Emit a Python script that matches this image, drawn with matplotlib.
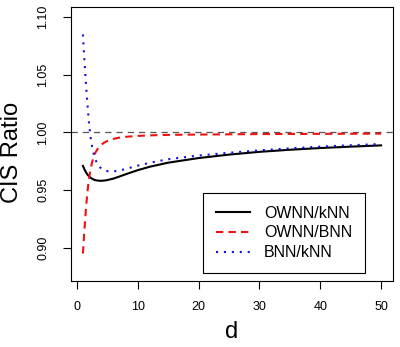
import matplotlib
matplotlib.use("Agg")
import matplotlib.pyplot as plt

plt.rcParams['font.family'] = ['Liberation Sans', 'DejaVu Sans']

# values
d = [1, 1.25, 1.5, 1.75, 2, 2.25, 2.5, 2.75, 3, 3.5, 4, 4.5, 5, 6, 7, 8, 10, 12, 15,
     20, 25, 30, 35, 40, 45, 50]
ownn_knn = [0.971, 0.968, 0.9655, 0.9635, 0.962, 0.9608, 0.9599, 0.9592, 0.9587, 0.9582, 0.9581,
            0.9583, 0.9587, 0.9600, 0.9618, 0.9637, 0.9673, 0.9703, 0.9738,
            0.9778, 0.9808, 0.9832, 0.985, 0.9865, 0.9877, 0.9888]
ownn_bnn = [0.895, 0.916, 0.934, 0.949, 0.960, 0.968, 0.974, 0.9785, 0.982, 0.9865, 0.9893,
            0.9912, 0.9926, 0.9944, 0.9955, 0.9962, 0.9970, 0.9975, 0.9979,
            0.9982, 0.9984, 0.9986, 0.9987, 0.9988, 0.9989, 0.999]
bnn_knn = [1.085, 1.062, 1.042, 1.024, 1.008, 0.996, 0.988, 0.982, 0.977, 0.9715, 0.9687,
           0.9672, 0.9665, 0.9662, 0.9670, 0.9683, 0.9712, 0.9737, 0.9768,
           0.9800, 0.9824, 0.9845, 0.9862, 0.9877, 0.9889, 0.9900]
labels = ["OWNN/kNN", "OWNN/BNN", "BNN/kNN"]
xticks = [0, 10, 20, 30, 40, 50]
yticks = [0.90, 0.95, 1.00, 1.05, 1.10]

fig = plt.figure(figsize=(4, 3.47), dpi=100)
ax = fig.add_axes([71 / 400, 1 - 281 / 347, 322 / 400, 274 / 347])

ax.axhline(1.0, color='#555555', lw=0.9, dashes=(5, 4))
ax.plot(d, ownn_knn, color='black', lw=1.5, label=labels[0])
ax.plot(d, ownn_bnn, color='#ee1111', lw=1.5, dashes=(3.5, 2.5), label=labels[1])
ax.plot(d, bnn_knn, color='#1111dd', lw=1.5, dashes=(1, 2.8), label=labels[2])

ax.set_xlim(1 - 0.04 * 49, 50 + 0.04 * 49)
ax.set_ylim(0.88 - 0.04 * 0.22, 1.10 + 0.04 * 0.22)
ax.set_xticks(xticks)
ax.set_yticks(yticks)
ax.set_xticklabels([str(t) for t in xticks])
ax.set_yticklabels(["%.2f" % t for t in yticks], rotation=90, va='center')
ax.tick_params(axis='x', length=5.5, width=0.8, pad=9, labelsize=9)
ax.tick_params(axis='y', length=5.5, width=0.8, pad=10, labelsize=9)
for s in ax.spines.values():
    s.set_linewidth(0.8)

ax.set_xlabel("d", fontsize=17)
ax.xaxis.set_label_coords(0.5, -0.146)
ax.set_ylabel("CIS Ratio", fontsize=17)
ax.yaxis.set_label_coords(-0.15, 0.47)

leg = ax.legend(loc='lower right', bbox_to_anchor=(0.913, 0.029), fontsize=11.5,
                frameon=True, fancybox=False, edgecolor='black', framealpha=1,
                handlelength=2.1, handletextpad=0.9, labelspacing=0.3, borderpad=0.8,
                borderaxespad=0)
leg.get_frame().set_linewidth(0.8)

fig.savefig("out.png", dpi=100)
